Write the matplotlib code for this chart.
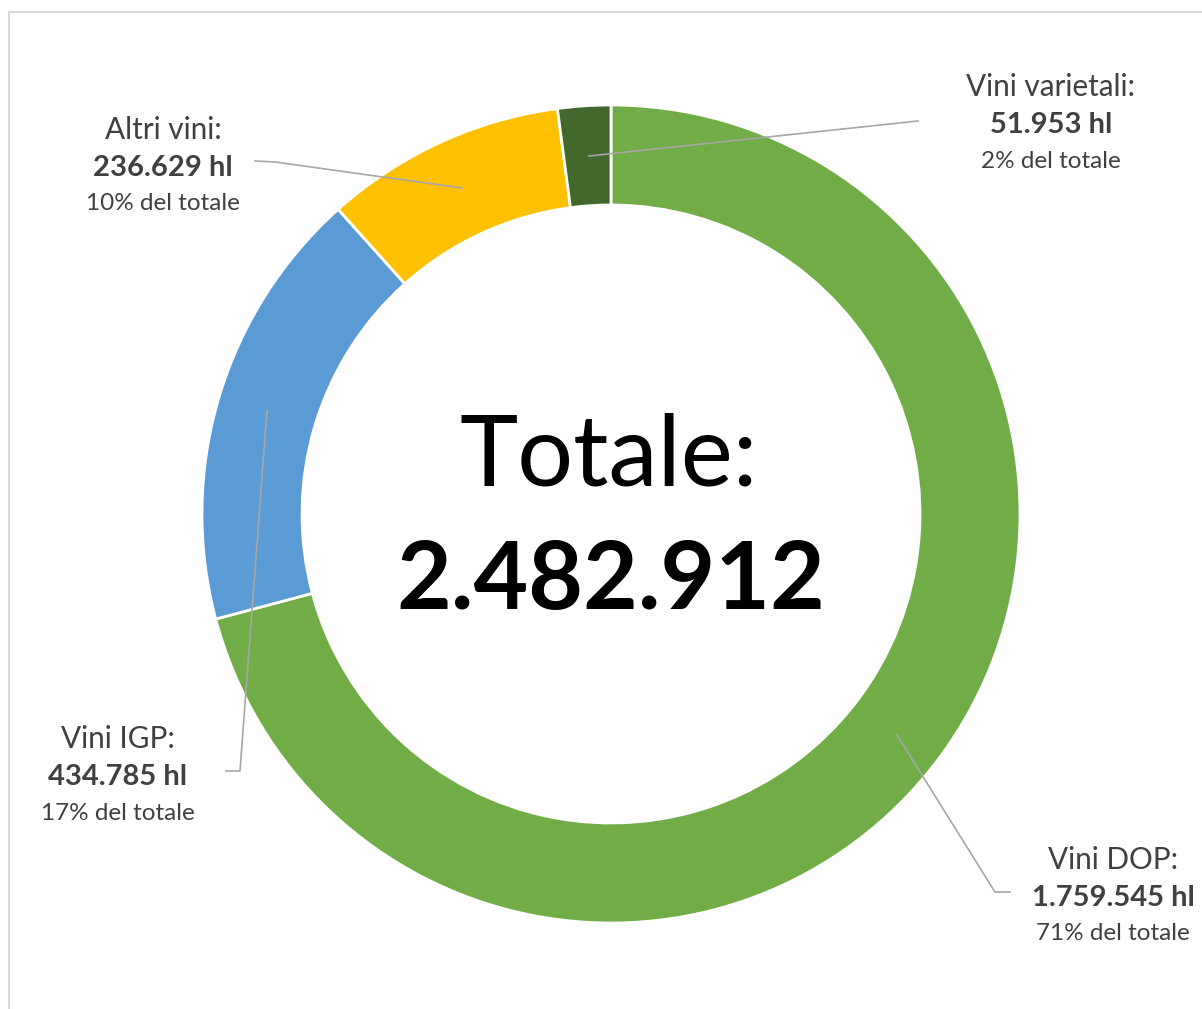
import matplotlib.pyplot as plt
from matplotlib.patches import Rectangle

# Wine production by category (hl)
categories = ["Vini DOP", "Vini IGP", "Altri vini", "Vini varietali"]
volumes = [1759545, 434785, 236629, 51953]
volume_labels = ["1.759.545 hl", "434.785 hl", "236.629 hl", "51.953 hl"]
share_labels = ["71% del totale", "17% del totale", "10% del totale", "2% del totale"]
total_label = "2.482.912"
colors = ["#70AD47", "#5B9BD5", "#FFC000", "#43682B"]

W, H = 1202, 1009
plt.rcParams["font.family"] = ["Lato", "DejaVu Sans"]

fig = plt.figure(figsize=(W / 100, H / 100), dpi=100)
ax = fig.add_axes([0, 0, 1, 1])

# donut, clockwise from 12 o'clock
ax.pie(volumes, colors=colors, startangle=90, counterclock=False,
       center=(611, H - 514), radius=409,
       wedgeprops=dict(width=100, edgecolor="white", linewidth=2))

ax.set_xlim(0, W)
ax.set_ylim(0, H)
ax.set_aspect("equal")
ax.axis("off")

# light grey chart frame (cut off on the right and bottom)
ax.add_patch(Rectangle((9, -20), W + 20, H + 8, fill=False, edgecolor="#D9D9D9", linewidth=1.5))

# center text
ax.text(609, H - 457, "Totale:", ha="center", va="center", fontsize=71, color="black")
ax.text(611, H - 582, total_label, ha="center", va="center", fontsize=68,
        fontweight="bold", color="black")

# label positions (image pixels) and leader lines
label_xy = [(1113, 860), (118, 739), (163, 130), (1051, 87)]
leaders = [
    [(897, 735), (995, 892), (1010, 892)],
    [(267, 410), (240, 771), (226, 771)],
    [(462, 188), (275, 162), (255, 161)],
    [(589, 156), (918, 121)],
]

text_color = "#404040"
for i, name in enumerate(categories):
    x, y = label_xy[i]
    ax.text(x, H - y, name + ":", ha="center", va="center", fontsize=21.4, color=text_color)
    ax.text(x, H - y - 38, volume_labels[i], ha="center", va="center", fontsize=21,
            fontweight="bold", color=text_color)
    ax.text(x, H - y - 74, share_labels[i], ha="center", va="center", fontsize=17.5,
            color=text_color)
    pts = leaders[i]
    ax.plot([p[0] for p in pts], [H - p[1] for p in pts], color="#A6A6A6", linewidth=1.2)

fig.savefig("out.png", dpi=100)
